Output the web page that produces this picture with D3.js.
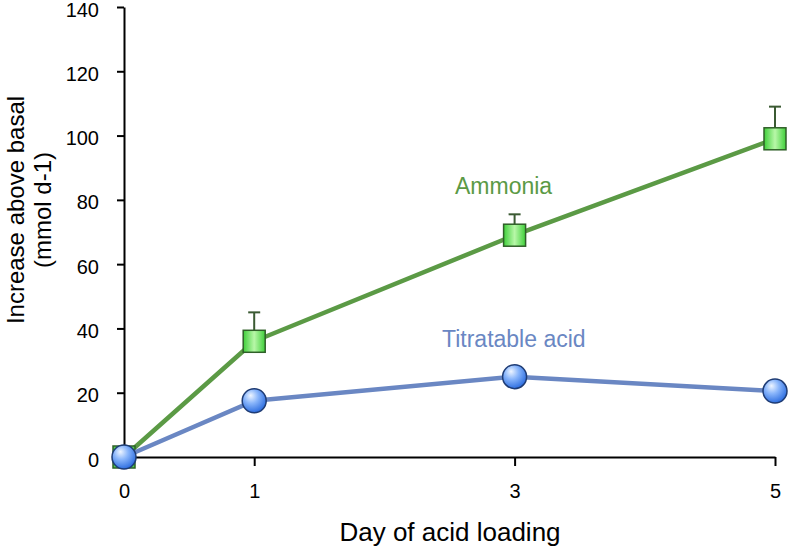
<!DOCTYPE html>
<html>
<head>
<meta charset="utf-8">
<script src="https://cdn.jsdelivr.net/npm/d3@7"></script>
<style>
  body { margin: 0; background: #fff; }
  svg { display: block; font-family: "Liberation Sans", Arial, Helvetica, sans-serif; }
</style>
</head>
<body>
<svg id="chart" width="791" height="548"></svg>
<script>
// ---- data ----
const days = [0, 1, 3, 5];
const xTickLabels = ["0", "1", "3", "5"];
const yTicks = [0, 20, 40, 60, 80, 100, 120, 140];
const ammonia = [0, 36, 69, 99];
const ammoniaErrUpper = [null, 45, 75.5, 109];
const titratable = [0, 17.5, 25, 20.5];
const seriesNames = ["Ammonia", "Titratable acid"];

// ---- layout ----
const svg = d3.select("#chart");
const x = d3.scaleLinear().domain([0, 5]).range([124, 775]);
const y = d3.scaleLinear().domain([0, 140]).range([457, 7]);

const defs = svg.append("defs");
const sq = defs.append("linearGradient").attr("id", "sqGrad").attr("x1", "0%").attr("x2", "100%");
sq.append("stop").attr("offset", "0%").attr("stop-color", "#3fcf3a");
sq.append("stop").attr("offset", "50%").attr("stop-color", "#b8f7a8");
sq.append("stop").attr("offset", "100%").attr("stop-color", "#3fcf3a");
const cg = defs.append("radialGradient").attr("id", "cirGrad")
  .attr("cx", "40%").attr("cy", "35%").attr("r", "65%").attr("fx", "35%").attr("fy", "28%");
cg.append("stop").attr("offset", "0%").attr("stop-color", "#eef5ff");
cg.append("stop").attr("offset", "45%").attr("stop-color", "#8ab6fb");
cg.append("stop").attr("offset", "100%").attr("stop-color", "#2f6fe0");

// ---- axes ----
const yAxis = d3.axisLeft(y).tickValues(yTicks).tickSize(7).tickPadding(18).tickSizeOuter(0);
const gy = svg.append("g").attr("transform", "translate(124,0)").call(yAxis);
const xAxis = d3.axisBottom(x).tickValues(days).tickFormat((d, i) => xTickLabels[i])
  .tickSize(9).tickPadding(18).tickSizeOuter(0);
const gx = svg.append("g").attr("transform", "translate(0,457)").call(xAxis);
[gx, gy].forEach(g => {
  g.select(".domain").attr("stroke", "#000").attr("stroke-width", 2);
  g.selectAll(".tick line").attr("stroke", "#000").attr("stroke-width", 2);
  g.selectAll(".tick text").attr("fill", "#000").style("font-size", "20px")
    .style("font-family", "'Liberation Sans', Arial, sans-serif");
});
gx.selectAll(".tick text").attr("dy", "0.71em");
gy.selectAll(".tick text").attr("dy", "0.45em");

// axis titles
svg.append("text").attr("x", 450).attr("y", 541).attr("text-anchor", "middle")
  .style("font-size", "26px").attr("fill", "#000").text("Day of acid loading");
const yt = svg.append("text").attr("transform", "translate(24,210) rotate(-90)")
  .attr("text-anchor", "middle").style("font-size", "24px").attr("fill", "#000");
yt.append("tspan").attr("x", 0).attr("y", 0).text("Increase above basal");
yt.append("tspan").attr("x", 0).attr("y", 27).text("(mmol d-1)");

// ---- lines ----
const line = d3.line().x((d, i) => x(days[i])).y(d => y(d));
svg.append("path").datum(ammonia).attr("d", line).attr("fill", "none")
  .attr("stroke", "#5b9a45").attr("stroke-width", 4.5);

// error bars
const eb = svg.append("g").attr("stroke", "#3b5a33").attr("stroke-width", 2);
ammoniaErrUpper.forEach((e, i) => {
  if (e == null) return;
  eb.append("line").attr("x1", x(days[i])).attr("x2", x(days[i]))
    .attr("y1", y(ammonia[i])).attr("y2", y(e));
  eb.append("line").attr("x1", x(days[i]) - 6).attr("x2", x(days[i]) + 6)
    .attr("y1", y(e)).attr("y2", y(e));
});

svg.append("g").selectAll("rect").data(ammonia).join("rect")
  .attr("x", (d, i) => x(days[i]) - 11).attr("y", d => y(d) - 11)
  .attr("width", 22).attr("height", 22)
  .attr("fill", "url(#sqGrad)").attr("stroke", "#2f5f28").attr("stroke-width", 1.5);

svg.append("path").datum(titratable).attr("d", line).attr("fill", "none")
  .attr("stroke", "#6a87c3").attr("stroke-width", 4.5);
svg.append("g").selectAll("circle").data(titratable).join("circle")
  .attr("cx", (d, i) => x(days[i])).attr("cy", d => y(d)).attr("r", 12)
  .attr("fill", "url(#cirGrad)").attr("stroke", "#1f3c74").attr("stroke-width", 1.5);

// series labels
svg.append("text").attr("x", 455).attr("y", 194).style("font-size", "23px")
  .attr("fill", "#5b9a45").text(seriesNames[0]);
svg.append("text").attr("x", 442).attr("y", 347).style("font-size", "23px")
  .attr("fill", "#6a87c3").text(seriesNames[1]);
</script>
</body>
</html>
